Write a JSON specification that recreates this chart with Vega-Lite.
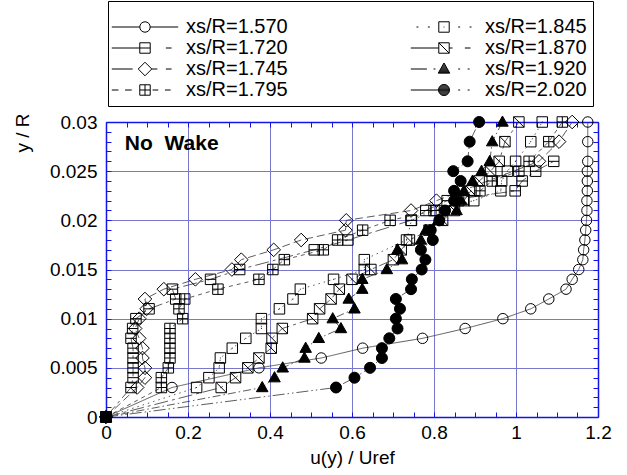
{
  "$schema": "https://vega.github.io/schema/vega-lite/v6.json",
  "width": 492,
  "height": 295,
  "autosize": "none",
  "padding": {"left": 106, "top": 122, "right": 29, "bottom": 58},
  "background": "white",
  "config": {"view": {"stroke": null}, "font": "Liberation Sans"},
  "data": {"values": [
    {"s":"xs/R=1.570","x":0,"y":0},{"s":"xs/R=1.570","x":0.161,"y":0.003},{"s":"xs/R=1.570","x":0.373,"y":0.005},{"s":"xs/R=1.570","x":0.525,"y":0.006},{"s":"xs/R=1.570","x":0.626,"y":0.007},{"s":"xs/R=1.570","x":0.772,"y":0.008},{"s":"xs/R=1.570","x":0.876,"y":0.009},{"s":"xs/R=1.570","x":0.968,"y":0.010},{"s":"xs/R=1.570","x":1.036,"y":0.011},{"s":"xs/R=1.570","x":1.080,"y":0.012},{"s":"xs/R=1.570","x":1.122,"y":0.013},{"s":"xs/R=1.570","x":1.137,"y":0.014},{"s":"xs/R=1.570","x":1.153,"y":0.015},{"s":"xs/R=1.570","x":1.163,"y":0.016},{"s":"xs/R=1.570","x":1.165,"y":0.017},{"s":"xs/R=1.570","x":1.168,"y":0.018},{"s":"xs/R=1.570","x":1.170,"y":0.019},{"s":"xs/R=1.570","x":1.172,"y":0.020},{"s":"xs/R=1.570","x":1.173,"y":0.021},{"s":"xs/R=1.570","x":1.173,"y":0.022},{"s":"xs/R=1.570","x":1.174,"y":0.023},{"s":"xs/R=1.570","x":1.174,"y":0.024},{"s":"xs/R=1.570","x":1.174,"y":0.025},{"s":"xs/R=1.570","x":1.175,"y":0.026},{"s":"xs/R=1.570","x":1.175,"y":0.028},{"s":"xs/R=1.570","x":1.175,"y":0.030},
    {"s":"xs/R=1.720","x":0,"y":0},{"s":"xs/R=1.720","x":0.061,"y":0.003},{"s":"xs/R=1.720","x":0.066,"y":0.004},{"s":"xs/R=1.720","x":0.066,"y":0.005},{"s":"xs/R=1.720","x":0.066,"y":0.006},{"s":"xs/R=1.720","x":0.066,"y":0.007},{"s":"xs/R=1.720","x":0.061,"y":0.008},{"s":"xs/R=1.720","x":0.065,"y":0.009},{"s":"xs/R=1.720","x":0.073,"y":0.010},{"s":"xs/R=1.720","x":0.105,"y":0.011},{"s":"xs/R=1.720","x":0.17,"y":0.012},{"s":"xs/R=1.720","x":0.162,"y":0.013},{"s":"xs/R=1.720","x":0.255,"y":0.014},{"s":"xs/R=1.720","x":0.326,"y":0.015},{"s":"xs/R=1.720","x":0.508,"y":0.017},{"s":"xs/R=1.720","x":0.59,"y":0.018},{"s":"xs/R=1.720","x":0.744,"y":0.020},{"s":"xs/R=1.720","x":0.78,"y":0.021},{"s":"xs/R=1.720","x":0.832,"y":0.022},{"s":"xs/R=1.720","x":0.998,"y":0.023},{"s":"xs/R=1.720","x":1.015,"y":0.024},{"s":"xs/R=1.720","x":1.048,"y":0.025},{"s":"xs/R=1.720","x":1.092,"y":0.026},
    {"s":"xs/R=1.745","x":0,"y":0},{"s":"xs/R=1.745","x":0.076,"y":0.003},{"s":"xs/R=1.745","x":0.095,"y":0.004},{"s":"xs/R=1.745","x":0.095,"y":0.005},{"s":"xs/R=1.745","x":0.089,"y":0.006},{"s":"xs/R=1.745","x":0.089,"y":0.007},{"s":"xs/R=1.745","x":0.081,"y":0.008},{"s":"xs/R=1.745","x":0.071,"y":0.009},{"s":"xs/R=1.745","x":0.081,"y":0.010},{"s":"xs/R=1.745","x":0.099,"y":0.011},{"s":"xs/R=1.745","x":0.095,"y":0.012},{"s":"xs/R=1.745","x":0.141,"y":0.013},{"s":"xs/R=1.745","x":0.218,"y":0.014},{"s":"xs/R=1.745","x":0.307,"y":0.015},{"s":"xs/R=1.745","x":0.330,"y":0.016},{"s":"xs/R=1.745","x":0.409,"y":0.017},{"s":"xs/R=1.745","x":0.476,"y":0.018},{"s":"xs/R=1.745","x":0.584,"y":0.019},{"s":"xs/R=1.745","x":0.586,"y":0.020},{"s":"xs/R=1.745","x":0.744,"y":0.021},{"s":"xs/R=1.745","x":0.806,"y":0.022},{"s":"xs/R=1.745","x":1.056,"y":0.026},{"s":"xs/R=1.745","x":1.105,"y":0.028},{"s":"xs/R=1.745","x":1.137,"y":0.030},
    {"s":"xs/R=1.795","x":0,"y":0},{"s":"xs/R=1.795","x":0.135,"y":0.003},{"s":"xs/R=1.795","x":0.135,"y":0.004},{"s":"xs/R=1.795","x":0.152,"y":0.005},{"s":"xs/R=1.795","x":0.156,"y":0.006},{"s":"xs/R=1.795","x":0.156,"y":0.007},{"s":"xs/R=1.795","x":0.156,"y":0.008},{"s":"xs/R=1.795","x":0.156,"y":0.009},{"s":"xs/R=1.795","x":0.187,"y":0.010},{"s":"xs/R=1.795","x":0.178,"y":0.011},{"s":"xs/R=1.795","x":0.192,"y":0.012},{"s":"xs/R=1.795","x":0.273,"y":0.013},{"s":"xs/R=1.795","x":0.373,"y":0.014},{"s":"xs/R=1.795","x":0.407,"y":0.015},{"s":"xs/R=1.795","x":0.435,"y":0.016},{"s":"xs/R=1.795","x":0.53,"y":0.017},{"s":"xs/R=1.795","x":0.565,"y":0.018},{"s":"xs/R=1.795","x":0.626,"y":0.019},{"s":"xs/R=1.795","x":0.693,"y":0.020},{"s":"xs/R=1.795","x":0.805,"y":0.021},{"s":"xs/R=1.795","x":0.86,"y":0.022},{"s":"xs/R=1.795","x":0.912,"y":0.023},{"s":"xs/R=1.795","x":0.942,"y":0.024},{"s":"xs/R=1.795","x":1.007,"y":0.025},{"s":"xs/R=1.795","x":1.032,"y":0.026},{"s":"xs/R=1.795","x":1.080,"y":0.028},{"s":"xs/R=1.795","x":1.113,"y":0.030},
    {"s":"xs/R=1.845","x":0,"y":0},{"s":"xs/R=1.845","x":0.221,"y":0.003},{"s":"xs/R=1.845","x":0.251,"y":0.004},{"s":"xs/R=1.845","x":0.276,"y":0.005},{"s":"xs/R=1.845","x":0.279,"y":0.006},{"s":"xs/R=1.845","x":0.308,"y":0.007},{"s":"xs/R=1.845","x":0.341,"y":0.008},{"s":"xs/R=1.845","x":0.379,"y":0.009},{"s":"xs/R=1.845","x":0.379,"y":0.010},{"s":"xs/R=1.845","x":0.423,"y":0.011},{"s":"xs/R=1.845","x":0.456,"y":0.012},{"s":"xs/R=1.845","x":0.474,"y":0.013},{"s":"xs/R=1.845","x":0.555,"y":0.014},{"s":"xs/R=1.845","x":0.630,"y":0.015},{"s":"xs/R=1.845","x":0.630,"y":0.016},{"s":"xs/R=1.845","x":0.733,"y":0.018},{"s":"xs/R=1.845","x":0.745,"y":0.020},{"s":"xs/R=1.845","x":0.80,"y":0.021},{"s":"xs/R=1.845","x":0.897,"y":0.022},{"s":"xs/R=1.845","x":0.963,"y":0.023},{"s":"xs/R=1.845","x":0.965,"y":0.024},{"s":"xs/R=1.845","x":0.979,"y":0.025},{"s":"xs/R=1.845","x":0.999,"y":0.026},{"s":"xs/R=1.845","x":1.036,"y":0.028},{"s":"xs/R=1.845","x":1.064,"y":0.030},
    {"s":"xs/R=1.870","x":0,"y":0},{"s":"xs/R=1.870","x":0.281,"y":0.003},{"s":"xs/R=1.870","x":0.316,"y":0.004},{"s":"xs/R=1.870","x":0.346,"y":0.005},{"s":"xs/R=1.870","x":0.373,"y":0.006},{"s":"xs/R=1.870","x":0.403,"y":0.007},{"s":"xs/R=1.870","x":0.405,"y":0.008},{"s":"xs/R=1.870","x":0.430,"y":0.009},{"s":"xs/R=1.870","x":0.504,"y":0.010},{"s":"xs/R=1.870","x":0.521,"y":0.011},{"s":"xs/R=1.870","x":0.549,"y":0.012},{"s":"xs/R=1.870","x":0.569,"y":0.013},{"s":"xs/R=1.870","x":0.600,"y":0.014},{"s":"xs/R=1.870","x":0.646,"y":0.015},{"s":"xs/R=1.870","x":0.701,"y":0.016},{"s":"xs/R=1.870","x":0.72,"y":0.017},{"s":"xs/R=1.870","x":0.740,"y":0.018},{"s":"xs/R=1.870","x":0.788,"y":0.019},{"s":"xs/R=1.870","x":0.821,"y":0.020},{"s":"xs/R=1.870","x":0.85,"y":0.021},{"s":"xs/R=1.870","x":0.873,"y":0.022},{"s":"xs/R=1.870","x":0.89,"y":0.023},{"s":"xs/R=1.870","x":0.91,"y":0.024},{"s":"xs/R=1.870","x":0.938,"y":0.025},{"s":"xs/R=1.870","x":0.959,"y":0.026},{"s":"xs/R=1.870","x":0.973,"y":0.028},{"s":"xs/R=1.870","x":1.007,"y":0.030},
    {"s":"xs/R=1.920","x":0,"y":0},{"s":"xs/R=1.920","x":0.381,"y":0.003},{"s":"xs/R=1.920","x":0.411,"y":0.004},{"s":"xs/R=1.920","x":0.431,"y":0.005},{"s":"xs/R=1.920","x":0.484,"y":0.006},{"s":"xs/R=1.920","x":0.487,"y":0.007},{"s":"xs/R=1.920","x":0.519,"y":0.008},{"s":"xs/R=1.920","x":0.573,"y":0.009},{"s":"xs/R=1.920","x":0.553,"y":0.010},{"s":"xs/R=1.920","x":0.606,"y":0.011},{"s":"xs/R=1.920","x":0.592,"y":0.012},{"s":"xs/R=1.920","x":0.625,"y":0.013},{"s":"xs/R=1.920","x":0.625,"y":0.014},{"s":"xs/R=1.920","x":0.685,"y":0.015},{"s":"xs/R=1.920","x":0.722,"y":0.016},{"s":"xs/R=1.920","x":0.711,"y":0.017},{"s":"xs/R=1.920","x":0.768,"y":0.018},{"s":"xs/R=1.920","x":0.78,"y":0.019},{"s":"xs/R=1.920","x":0.81,"y":0.020},{"s":"xs/R=1.920","x":0.855,"y":0.021},{"s":"xs/R=1.920","x":0.866,"y":0.022},{"s":"xs/R=1.920","x":0.873,"y":0.023},{"s":"xs/R=1.920","x":0.894,"y":0.024},{"s":"xs/R=1.920","x":0.916,"y":0.025},{"s":"xs/R=1.920","x":0.936,"y":0.026},{"s":"xs/R=1.920","x":0.942,"y":0.028},{"s":"xs/R=1.920","x":0.967,"y":0.030},
    {"s":"xs/R=2.020","x":0,"y":0},{"s":"xs/R=2.020","x":0.561,"y":0.003},{"s":"xs/R=2.020","x":0.606,"y":0.004},{"s":"xs/R=2.020","x":0.644,"y":0.005},{"s":"xs/R=2.020","x":0.673,"y":0.006},{"s":"xs/R=2.020","x":0.673,"y":0.007},{"s":"xs/R=2.020","x":0.691,"y":0.008},{"s":"xs/R=2.020","x":0.711,"y":0.009},{"s":"xs/R=2.020","x":0.707,"y":0.010},{"s":"xs/R=2.020","x":0.717,"y":0.011},{"s":"xs/R=2.020","x":0.707,"y":0.012},{"s":"xs/R=2.020","x":0.744,"y":0.013},{"s":"xs/R=2.020","x":0.746,"y":0.014},{"s":"xs/R=2.020","x":0.770,"y":0.015},{"s":"xs/R=2.020","x":0.779,"y":0.016},{"s":"xs/R=2.020","x":0.768,"y":0.017},{"s":"xs/R=2.020","x":0.797,"y":0.018},{"s":"xs/R=2.020","x":0.792,"y":0.019},{"s":"xs/R=2.020","x":0.813,"y":0.020},{"s":"xs/R=2.020","x":0.827,"y":0.021},{"s":"xs/R=2.020","x":0.849,"y":0.022},{"s":"xs/R=2.020","x":0.849,"y":0.023},{"s":"xs/R=2.020","x":0.865,"y":0.024},{"s":"xs/R=2.020","x":0.847,"y":0.025},{"s":"xs/R=2.020","x":0.882,"y":0.026},{"s":"xs/R=2.020","x":0.887,"y":0.028},{"s":"xs/R=2.020","x":0.910,"y":0.030}
  ]},
  "layer": [
    {
      "mark": {"type": "line", "color": "#333333", "strokeWidth": 0.8},
      "encoding": {
        "x": {"field": "x", "type": "quantitative", "scale": {"domain": [0, 1.2], "nice": false, "zero": false}, "axis": null},
        "y": {"field": "y", "type": "quantitative", "scale": {"domain": [0, 0.03], "nice": false, "zero": false}, "axis": null},
        "strokeDash": {"field": "s", "type": "nominal", "legend": null,
          "scale": {"domain": ["xs/R=1.570","xs/R=1.720","xs/R=1.745","xs/R=1.795","xs/R=1.845","xs/R=1.870","xs/R=1.920","xs/R=2.020"],
                    "range": [[1,0],[14,4,3,4],[8,4],[4,4],[1.5,4],[14,4,3,4],[8,3,1.5,3],[12,3,1.5,3,1.5,3]]}},
        "order": {"field": "y", "type": "quantitative"}
      }
    },
    {
      "mark": {"type": "point", "filled": true, "stroke": "black", "strokeWidth": 1, "size": 110, "opacity": 1},
      "encoding": {
        "x": {"field": "x", "type": "quantitative",
          "axis": {"orient": "bottom", "title": "u(y) / Uref",
            "values": [0,0.05,0.1,0.15,0.2,0.25,0.3,0.35,0.4,0.45,0.5,0.55,0.6,0.65,0.7,0.75,0.8,0.85,0.9,0.95,1,1.05,1.1,1.15,1.2],
            "labelExpr": "abs(datum.value*5-round(datum.value*5))<0.001 ? format(datum.value,'.1~f') : ''",
            "labelFlush": false, "labelOverlap": false, "labelFontSize": 19, "labelColor": "black", "labelFont": "Liberation Sans", "labelPadding": 11,
            "tickSize": -5, "tickColor": "#1414e6", "tickWidth": 1,
            "domainColor": "#1414e6", "domainWidth": 1.5,
            "grid": true, "gridColor": "#7878cc", "gridWidth": 1,
            "gridOpacity": {"condition": {"test": "abs(datum.value*5-round(datum.value*5))<0.001", "value": 1}, "value": 0},
            "titleFontSize": 19, "titleFontWeight": "normal", "titleColor": "black", "titleFont": "Liberation Sans",
            "titleY": 46, "titleBaseline": "alphabetic"}},
        "y": {"field": "y", "type": "quantitative",
          "axis": {"orient": "left", "title": "y / R",
            "values": [0,0.001,0.002,0.003,0.004,0.005,0.006,0.007,0.008,0.009,0.01,0.011,0.012,0.013,0.014,0.015,0.016,0.017,0.018,0.019,0.02,0.021,0.022,0.023,0.024,0.025,0.026,0.027,0.028,0.029,0.03],
            "labelExpr": "abs(datum.value*200-round(datum.value*200))<0.01 ? format(datum.value,'.3~f') : ''",
            "labelFlush": false, "labelOverlap": false, "labelFontSize": 19, "labelColor": "black", "labelFont": "Liberation Sans", "labelPadding": 14,
            "tickSize": -5, "tickColor": "#1414e6", "tickWidth": 1,
            "domainColor": "#1414e6", "domainWidth": 1.5,
            "grid": true, "gridColor": "#7878cc", "gridWidth": 1,
            "gridOpacity": {"condition": {"test": "abs(datum.value*200-round(datum.value*200))<0.01", "value": 1}, "value": 0},
            "titleFontSize": 19, "titleFontWeight": "normal", "titleColor": "black", "titleFont": "Liberation Sans",
            "titleAngle": -90, "titleAlign": "right", "titleBaseline": "alphabetic", "titleX": -78, "titleY": -9}},
        "shape": {"field": "s", "type": "nominal", "legend": null,
          "scale": {"domain": ["xs/R=1.570","xs/R=1.720","xs/R=1.745","xs/R=1.795","xs/R=1.845","xs/R=1.870","xs/R=1.920","xs/R=2.020"],
                    "range": ["M1,0A1,1,0,1,1,-1,0A1,1,0,1,1,1,0Z",
                              "M-1,-1L1,-1L1,1L-1,1ZM-1,0L1,0",
                              "M-1.3,0L0,-1.3L1.3,0L0,1.3Z",
                              "M-1,-1L1,-1L1,1L-1,1ZM-1,0L1,0M0,-1L0,1",
                              "M-1,-1L1,-1L1,1L-1,1ZM-0.08,0L0.08,0",
                              "M-1,-1L1,-1L1,1L-1,1ZM-1,-1L1,1",
                              "M0,-1.15L1.1,0.8L-1.1,0.8Z",
                              "M1.05,0A1.05,1.05,0,1,1,-1.05,0A1.05,1.05,0,1,1,1.05,0Z"]}},
        "fill": {"field": "s", "type": "nominal", "legend": null,
          "scale": {"domain": ["xs/R=1.570","xs/R=1.720","xs/R=1.745","xs/R=1.795","xs/R=1.845","xs/R=1.870","xs/R=1.920","xs/R=2.020"],
                    "range": ["transparent","transparent","transparent","transparent","transparent","transparent","black","black"]}}
      }
    },
    {
      "data": {"values": [{"label": "No\u00a0\u00a0Wake", "x": 0.046, "y": 0.0272}]},
      "mark": {"type": "text", "fontSize": 21, "fontWeight": "bold", "align": "left", "baseline": "alphabetic", "font": "Liberation Sans", "color": "black"},
      "encoding": {
        "x": {"field": "x", "type": "quantitative", "axis": null},
        "y": {"field": "y", "type": "quantitative", "axis": null},
        "text": {"field": "label"}
      }
    },
    {
      "transform": [{"filter": "false"}],
      "mark": {"type": "point", "filled": false, "color": "black", "strokeWidth": 1, "size": 90, "opacity": 1},
      "encoding": {
        "x": {"field": "x", "type": "quantitative",
          "axis": {"orient": "top", "title": null, "labels": false, "grid": false,
            "values": [0,0.05,0.1,0.15,0.2,0.25,0.3,0.35,0.4,0.45,0.5,0.55,0.6,0.65,0.7,0.75,0.8,0.85,0.9,0.95,1,1.05,1.1,1.15,1.2],
            "tickSize": -5, "tickColor": "#1414e6", "tickWidth": 1, "domainColor": "#1414e6", "domainWidth": 1.5}},
        "y": {"field": "y", "type": "quantitative",
          "axis": {"orient": "right", "title": null, "labels": false, "grid": false,
            "values": [0,0.001,0.002,0.003,0.004,0.005,0.006,0.007,0.008,0.009,0.01,0.011,0.012,0.013,0.014,0.015,0.016,0.017,0.018,0.019,0.02,0.021,0.022,0.023,0.024,0.025,0.026,0.027,0.028,0.029,0.03],
            "tickSize": -5, "tickColor": "#1414e6", "tickWidth": 1, "domainColor": "#1414e6", "domainWidth": 1.5}},
        "shape": {"field": "s", "type": "nominal",
          "scale": {"domain": ["xs/R=1.570","xs/R=1.720","xs/R=1.745","xs/R=1.795","xs/R=1.845","xs/R=1.870","xs/R=1.920","xs/R=2.020"],
                    "range": ["M-7,0L-1.1,0M1.1,0L7,0M1.1,0A1.1,1.1,0,1,1,-1.1,0A1.1,1.1,0,1,1,1.1,0Z",
                              "M-7,0L-1.1,0M4.4,0L5.6,0M-1.1,-1.1L1.1,-1.1L1.1,1.1L-1.1,1.1ZM-1.1,0L1.1,0",
                              "M-7,0L-2.6,0M1.45,0L2.6,0M4.4,0L5.6,0M-1.43,0L0,-1.43L1.43,0L0,1.43Z",
                              "M-7,0L-5.6,0M-4.2,0L-2.8,0M1.6,0L2.8,0M4.2,0L5.4,0M-1.1,-1.1L1.1,-1.1L1.1,1.1L-1.1,1.1ZM-1.1,0L1.1,0M0,-1.1L0,1.1",
                              "M-5.8,0L-5.4,0M-3.4,0L-3,0M3,0L3.4,0M5.4,0L5.8,0M-1.1,-1.1L1.1,-1.1L1.1,1.1L-1.1,1.1ZM-0.08,0L0.08,0",
                              "M-7,0L-1.1,0M1.1,0L1.8,0M4.4,0L5.6,0M-1.1,-1.1L1.1,-1.1L1.1,1.1L-1.1,1.1ZM-1.1,-1.1L1.1,1.1",
                              "M-7,0L-3.6,0M-2.2,0L-1.8,0M3,0L3.4,0M5,0L5.4,0M0,-1.27L1.21,0.88L-1.21,0.88ZM-0.124,-1.045L0.124,-1.045M-0.249,-0.825L0.249,-0.825M-0.372,-0.605L0.372,-0.605M-0.496,-0.385L0.496,-0.385M-0.62,-0.165L0.62,-0.165M-0.745,0.055L0.745,0.055M-0.869,0.275L0.869,0.275M-0.993,0.495L0.993,0.495M-1.117,0.715L1.117,0.715",
                              "M-7,0L1.15,0M3,0L3.4,0M5,0L5.4,0M1.155,0A1.155,1.155,0,1,1,-1.155,0A1.155,1.155,0,1,1,1.155,0ZM-0.492,-1.045L0.492,-1.045M-0.809,-0.825L0.809,-0.825M-0.983,-0.605L0.983,-0.605M-1.089,-0.385L1.089,-0.385M-1.143,-0.165L1.143,-0.165M-1.143,0.165L1.143,0.165M-1.089,0.385L1.089,0.385M-0.983,0.605L0.983,0.605M-0.809,0.825L0.809,0.825M-0.492,1.045L0.492,1.045"]},
          "legend": {"orient": "none", "legendX": 2, "legendY": -121, "columns": 2,
            "title": " ", "titleFontSize": 6, "titlePadding": 4,
            "padding": 6, "strokeColor": "black", "fillColor": "white",
            "labelFontSize": 20, "labelFont": "Liberation Sans", "labelColor": "black", "labelLimit": 300,
            "symbolSize": 90, "symbolStrokeWidth": 1,
            "symbolOffset": 21, "labelOffset": 31, "rowPadding": 1, "columnPadding": 120}}
      }
    }
  ],
  "resolve": {
    "scale": {"shape": "independent", "fill": "independent"},
    "axis": {"x": "independent", "y": "independent"}
  }
}
